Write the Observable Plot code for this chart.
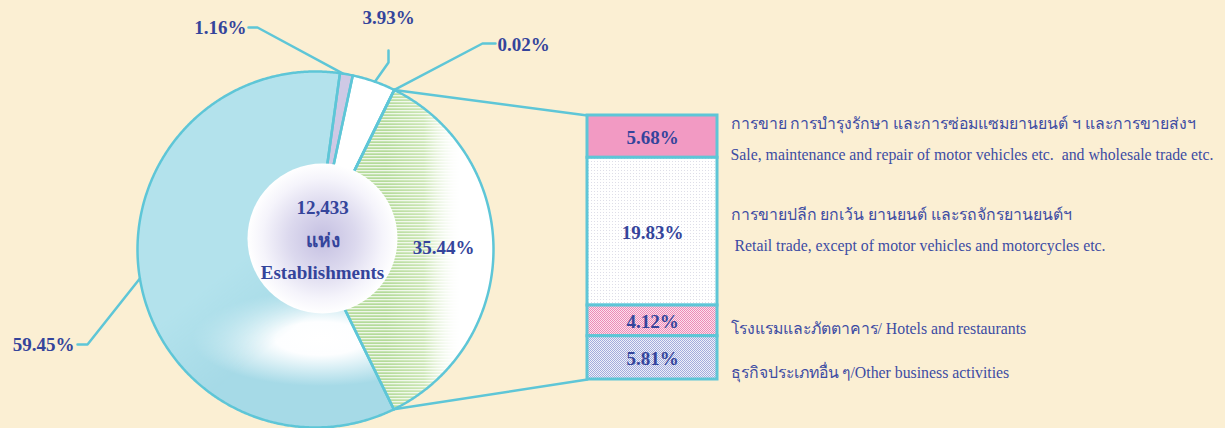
<!DOCTYPE html>
<html><head><meta charset="utf-8">
<script src="https://cdn.jsdelivr.net/npm/d3@7"></script>
<script src="https://cdn.jsdelivr.net/npm/@observablehq/plot@0.6"></script>
<style>
html,body{margin:0;padding:0;background:#fbefd3;}
#chart{position:relative;width:1225px;height:428px;overflow:hidden;background:#fbefd3;}
#chart > svg{position:absolute;overflow:visible;}
</style></head>
<body><div id="chart"></div>
<script>
// ---------------- data ----------------
const pieCategories = ["trade_hotels_other", "group_a", "group_b", "group_c", "group_d"];
const pieValues = [35.44, 59.45, 1.16, 3.93, 0.02];
const pieLabels = ["35.44%", "59.45%", "1.16%", "3.93%", "0.02%"];
const centerLines = ["12,433", "แห่ง", "Establishments"];

const barCategories = ["sale", "retail", "hotels", "other"];
const barValues = [5.68, 19.83, 4.12, 5.81];
const barLabels = ["5.68%", "19.83%", "4.12%", "5.81%"];
const barDescTh = [
  "การขาย การบำรุงรักษา และการซ่อมแซมยานยนต์ ฯ และการขายส่งฯ",
  "การขายปลีก ยกเว้น ยานยนต์ และรถจักรยานยนต์ฯ",
  "โรงแรมและภัตตาคาร",
  "ธุรกิจประเภทอื่น ๆ"
];
const barDescEn = [
  "Sale, maintenance and repair of motor vehicles etc.  and wholesale trade etc.",
  "Retail trade, except of motor vehicles and motorcycles etc.",
  "Hotels and restaurants",
  "Other business activities"
];

// ---------------- styles & layout ----------------
const OUT = "#5ec6d7";
const TXT = "#34449b";
const TXT2 = "#3d4ca3";
const SERIF = "'Liberation Serif', 'Times New Roman', serif";
const sliceFill = ["#ffffff", "url(#blueBase)", "#cfc9e5", "#ffffff", "#ffffff"];
const barFill = ["#f29ac3", "url(#dotWhite)", "url(#checkPink)", "url(#checkBlue)"];
const barDescSep = ["\n", "\n ", "/ ", "/"];
const barDescDy = [-2, -6, 3, 10];

const W = 1225, H = 428, DEG = Math.PI / 180;
const L = {cx: 315, cy: 249, r: 178, startDeg: 26.3,
  hole: {x: 322, y: 238, r: 75}, holeLineDy: [-31, 2, 34],
  bar: {left: 587, top: 115, w: 130, h: 264}};
// pie label placement (by slice index)
const pieLabelLayout = [
  {x: 443, y: 247, anchor: "middle", leader: null},
  {x: 74, y: 344, anchor: "end", leader: {pts: [[77, 344], [87, 344]], angleDeg: 260.6}},
  {x: 246, y: 27, anchor: "end", leader: {pts: [[248, 27], [257, 27]], angleDeg: 8.9}},
  {x: 388, y: 17, anchor: "middle", leader: {pts: [[388, 50], [388, 62]], angleDeg: 19.5}},
  {x: 497, y: 44, anchor: "start", leader: {pts: [[495, 43], [482, 43]], angleDeg: null}}
];

// ---------------- geometry from data ----------------
const start = L.startDeg * DEG;
const arcs = d3.pie().sort(null).startAngle(start).endAngle(start + 2 * Math.PI)(pieValues);
const onArc = (a, r = L.r) => [L.cx + r * Math.sin(a), L.cy - r * Math.cos(a)];
const slices = arcs.map((a, i) => {
  const n = Math.max(2, Math.ceil((a.endAngle - a.startAngle) / (0.5 * DEG)));
  const pts = [{x: L.cx, y: L.cy, key: pieCategories[i]}];
  for (let k = 0; k <= n; k++) {
    const [x, y] = onArc(a.startAngle + (a.endAngle - a.startAngle) * k / n);
    pts.push({x, y, key: pieCategories[i]});
  }
  return pts;
});
const [gsx, gsy] = onArc(arcs[0].startAngle);
const [gex, gey] = onArc(arcs[0].endAngle);
const connectors = [
  {id: "top", x: gsx, y: gsy}, {id: "top", x: L.bar.left, y: L.bar.top},
  {id: "bot", x: gex, y: gey}, {id: "bot", x: L.bar.left, y: L.bar.top + L.bar.h}
];
const leaders = [];
pieLabelLayout.forEach((p, i) => {
  if (!p.leader) return;
  p.leader.pts.forEach(([x, y]) => leaders.push({id: i, x, y}));
  const ang = p.leader.angleDeg == null ? arcs[0].startAngle : p.leader.angleDeg * DEG;
  const [x, y] = onArc(ang);
  leaders.push({id: i, x, y});
});
const pieLabelData = pieLabels.map((t, i) => ({text: t, x: pieLabelLayout[i].x, y: pieLabelLayout[i].y, anchor: pieLabelLayout[i].anchor}));
const centerData = centerLines.map((t, i) => ({text: t, x: L.hole.x, y: L.hole.y + L.holeLineDy[i]}));

const lineOpts = {x: "x", y: "y", stroke: "none", curve: "linear-closed"};
const main = Plot.plot({
  width: W, height: H, margin: 0,
  x: {domain: [0, W], range: [0, W], axis: null},
  y: {domain: [0, H], range: [0, H], axis: null},
  style: {background: "transparent", overflow: "visible"},
  marks: [
    ...slices.map((s, i) => Plot.line(s, {...lineOpts, fill: sliceFill[i]})),
    Plot.line(slices[0], {...lineOpts, fill: "url(#greenStripes)"}),
    Plot.line(slices[1], {...lineOpts, fill: "url(#checkCyan)"}),
    Plot.line(slices.flat(), {x: "x", y: "y", z: "key", fill: "none", stroke: OUT, strokeWidth: 2.5, curve: "linear-closed", strokeLinejoin: "round"}),
    Plot.line(connectors, {x: "x", y: "y", z: "id", stroke: OUT, strokeWidth: 2.5}),
    Plot.line(leaders, {x: "x", y: "y", z: "id", stroke: OUT, strokeWidth: 2.5, strokeLinejoin: "round"}),
    Plot.dot([L.hole], {x: "x", y: "y", r: L.hole.r, fill: "url(#discGrad)", stroke: "none"}),
    Plot.text(centerData, {x: "x", y: "y", text: "text", fill: TXT, fontFamily: SERIF, fontSize: 19, fontWeight: "bold"}),
    ...["start", "middle", "end"].map(anc => Plot.text(pieLabelData.filter(d => d.anchor === anc), {
      x: "x", y: "y", text: "text", textAnchor: anc, fill: TXT, fontFamily: SERIF, fontSize: 19, fontWeight: "bold"}))
  ]
});

d3.select(main).insert("defs", ":first-child").html(`
  <linearGradient id="stripeFade" gradientUnits="userSpaceOnUse" x1="385" y1="0" x2="462" y2="0">
    <stop offset="0" stop-color="#8cc763"/>
    <stop offset="0.5" stop-color="#b0d98d"/>
    <stop offset="1" stop-color="#ffffff" stop-opacity="0"/>
  </linearGradient>
  <pattern id="greenStripes" patternUnits="userSpaceOnUse" x="0" y="0" width="${W}" height="3">
    <rect x="0" y="0" width="${W}" height="1.3" fill="url(#stripeFade)"/>
  </pattern>
  <radialGradient id="blueBase" gradientUnits="userSpaceOnUse" cx="320" cy="338" r="95"
     gradientTransform="translate(320 338) scale(1.35 0.5) translate(-320 -338)">
    <stop offset="0" stop-color="#ffffff"/>
    <stop offset="0.35" stop-color="#fdfeff"/>
    <stop offset="1" stop-color="#a6dae7"/>
  </radialGradient>
  <pattern id="checkCyan" patternUnits="userSpaceOnUse" width="2" height="2">
    <rect width="2" height="2" fill="#def3f7"/>
    <rect width="1" height="1" fill="#88d1e0"/>
    <rect x="1" y="1" width="1" height="1" fill="#88d1e0"/>
  </pattern>
  <linearGradient id="maskGrad" gradientUnits="userSpaceOnUse" x1="230" y1="265" x2="285" y2="335">
    <stop offset="0" stop-color="#fff"/>
    <stop offset="1" stop-color="#000"/>
  </linearGradient>
  <mask id="blueMask" maskUnits="userSpaceOnUse" x="0" y="0" width="${W}" height="${H}">
    <rect width="${W}" height="${H}" fill="url(#maskGrad)"/>
  </mask>
  <radialGradient id="discGrad" cx="0.5" cy="0.5" r="0.5">
    <stop offset="0" stop-color="#c4bfe1"/>
    <stop offset="0.45" stop-color="#dcd9ee"/>
    <stop offset="0.8" stop-color="#f5f4fb"/>
    <stop offset="1" stop-color="#ffffff"/>
  </radialGradient>
  <pattern id="dotWhite" patternUnits="userSpaceOnUse" width="3" height="3">
    <rect width="3" height="3" fill="#ffffff"/>
    <rect width="1" height="1" fill="#dedee8"/>
  </pattern>
  <pattern id="checkPink" patternUnits="userSpaceOnUse" width="2" height="2">
    <rect width="2" height="2" fill="#fbe1ec"/>
    <rect width="1" height="1" fill="#ec8ab7"/>
    <rect x="1" y="1" width="1" height="1" fill="#ec8ab7"/>
  </pattern>
  <pattern id="checkBlue" patternUnits="userSpaceOnUse" width="2" height="2">
    <rect width="2" height="2" fill="#eef0f9"/>
    <rect width="1" height="1" fill="#a3abdc"/>
    <rect x="1" y="1" width="1" height="1" fill="#a3abdc"/>
  </pattern>
`);
d3.select(main).selectAll('[fill="url(#checkCyan)"]').filter(function() { return this.tagName !== "rect"; })
  .attr("mask", "url(#blueMask)");

// ---------------- bar (breakdown of 35.44%) ----------------
const barData = barCategories.map((k, i) => ({
  key: k, value: barValues[i], label: barLabels[i], fill: barFill[i],
  desc: barDescTh[i] + barDescSep[i] + barDescEn[i]
}));
const barPlot = Plot.plot({
  width: L.bar.w + 4, height: L.bar.h + 4, margin: 2,
  x: {type: "band", domain: ["bar"], padding: 0, axis: null},
  y: {domain: [0, d3.sum(barValues)], reverse: true, axis: null},
  color: {type: "identity"},
  style: {background: "transparent", overflow: "visible"},
  marks: [
    Plot.barY(barData, {x: () => "bar", y: "value", fill: "fill", stroke: OUT, strokeWidth: 3}),
    Plot.text(barData, Plot.stackY({x: () => "bar", y: "value", text: "label", dy: 1,
      fill: TXT, fontFamily: SERIF, fontSize: 19, fontWeight: "bold"})),
    ...barCategories.map((k, i) => Plot.text(barData, Plot.stackY({
      x: () => "bar", y: "value", text: d => d.key === k ? d.desc : "",
      dx: L.bar.w / 2 + 13, dy: barDescDy[i], textAnchor: "start", lineHeight: 1.95,
      fill: TXT2, fontFamily: SERIF, fontSize: 15.8})))
  ]
});

const chart = document.getElementById("chart");
main.style.left = "0px"; main.style.top = "0px";
barPlot.style.left = (L.bar.left - 2) + "px"; barPlot.style.top = (L.bar.top - 2) + "px";
chart.append(main, barPlot);
</script>
</body></html>
